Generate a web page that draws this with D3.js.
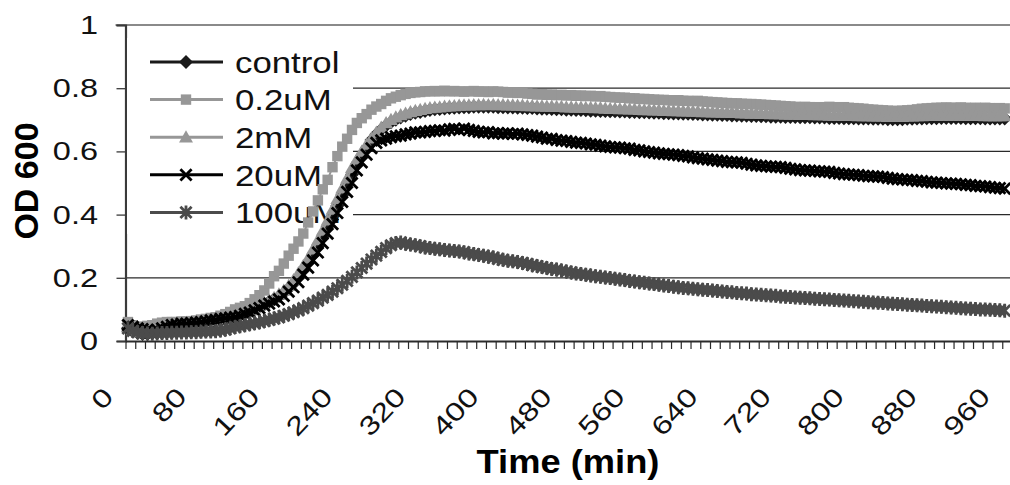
<!DOCTYPE html>
<html><head><meta charset="utf-8">
<script src="https://cdn.jsdelivr.net/npm/d3@7"></script>
<style>html,body{margin:0;padding:0;background:#fff;} svg{display:block;font-family:"Liberation Sans",Arial,sans-serif;}</style>
</head><body>
<svg id="chart" width="1010" height="485"></svg>
<script>
// ---- data (OD 600 readings every 16/3 min) ----
const seriesNames = ["control", "0.2uM", "2mM", "20uM", "100uM"];
const sampleInterval = 16 / 3;
const control = [
0.040,0.030,0.025,0.022,0.022,0.025,0.028,0.030,0.033,0.035,
0.038,0.040,0.043,0.045,0.048,0.050,0.053,0.056,0.060,0.064,
0.068,0.072,0.076,0.081,0.087,0.093,0.100,0.108,0.116,0.124,
0.132,0.141,0.152,0.166,0.182,0.200,0.223,0.247,0.272,0.300,
0.330,0.362,0.394,0.428,0.462,0.495,0.527,0.558,0.585,0.610,
0.636,0.654,0.669,0.682,0.692,0.700,0.707,0.713,0.718,0.722,
0.725,0.728,0.731,0.733,0.734,0.736,0.737,0.738,0.739,0.740,
0.740,0.741,0.741,0.741,0.741,0.741,0.740,0.740,0.739,0.739,
0.738,0.738,0.737,0.737,0.736,0.735,0.735,0.734,0.733,0.733,
0.732,0.732,0.731,0.731,0.730,0.729,0.729,0.728,0.728,0.727,
0.727,0.726,0.726,0.725,0.725,0.724,0.724,0.723,0.722,0.722,
0.721,0.721,0.720,0.720,0.719,0.719,0.718,0.718,0.717,0.717,
0.716,0.716,0.715,0.715,0.714,0.714,0.713,0.713,0.712,0.712,
0.711,0.711,0.710,0.710,0.710,0.709,0.709,0.709,0.708,0.708,
0.708,0.707,0.707,0.707,0.706,0.706,0.706,0.705,0.705,0.705,
0.704,0.704,0.704,0.703,0.703,0.703,0.702,0.702,0.702,0.702,
0.703,0.703,0.704,0.704,0.705,0.705,0.705,0.706,0.706,0.706,
0.706,0.706,0.705,0.705,0.705,0.705,0.704,0.704,0.704,0.704,
0.704];
const uM02 = [
0.060,0.050,0.045,0.045,0.048,0.050,0.055,0.058,0.060,0.060,
0.060,0.062,0.062,0.063,0.065,0.068,0.070,0.073,0.075,0.080,
0.085,0.092,0.100,0.105,0.110,0.120,0.132,0.145,0.160,0.182,
0.205,0.222,0.245,0.270,0.292,0.315,0.340,0.375,0.410,0.445,
0.480,0.510,0.550,0.585,0.615,0.640,0.668,0.690,0.705,0.718,
0.732,0.742,0.750,0.760,0.768,0.773,0.778,0.782,0.785,0.787,
0.788,0.790,0.790,0.791,0.790,0.792,0.790,0.791,0.790,0.789,
0.790,0.791,0.789,0.790,0.788,0.790,0.789,0.788,0.786,0.787,
0.785,0.786,0.783,0.782,0.780,0.781,0.779,0.780,0.778,0.779,
0.777,0.778,0.776,0.777,0.775,0.776,0.774,0.775,0.773,0.772,
0.771,0.770,0.770,0.768,0.768,0.766,0.766,0.765,0.764,0.763,
0.763,0.762,0.761,0.762,0.760,0.760,0.759,0.760,0.758,0.757,
0.756,0.755,0.754,0.753,0.752,0.752,0.751,0.750,0.750,0.749,
0.748,0.747,0.746,0.745,0.744,0.743,0.742,0.741,0.740,0.741,
0.740,0.740,0.739,0.740,0.741,0.740,0.739,0.740,0.738,0.737,
0.736,0.735,0.733,0.732,0.731,0.730,0.729,0.728,0.728,0.729,
0.730,0.731,0.733,0.735,0.736,0.737,0.738,0.738,0.739,0.738,
0.738,0.739,0.738,0.737,0.738,0.737,0.738,0.737,0.736,0.737,
0.736];
const mM2 = [
0.045,0.035,0.030,0.028,0.030,0.032,0.035,0.038,0.040,0.042,
0.045,0.047,0.050,0.052,0.055,0.058,0.060,0.063,0.066,0.070,
0.073,0.076,0.080,0.085,0.090,0.097,0.104,0.112,0.120,0.128,
0.137,0.148,0.160,0.175,0.193,0.215,0.238,0.262,0.290,0.320,
0.350,0.382,0.416,0.450,0.483,0.515,0.548,0.575,0.600,0.622,
0.642,0.660,0.676,0.690,0.700,0.708,0.715,0.720,0.725,0.729,
0.732,0.735,0.737,0.739,0.740,0.742,0.743,0.744,0.745,0.746,
0.746,0.747,0.747,0.748,0.747,0.748,0.747,0.747,0.746,0.746,
0.745,0.745,0.744,0.744,0.743,0.743,0.742,0.742,0.741,0.741,
0.740,0.740,0.739,0.739,0.738,0.738,0.737,0.737,0.736,0.735,
0.735,0.734,0.734,0.733,0.733,0.732,0.731,0.731,0.730,0.730,
0.729,0.729,0.728,0.728,0.727,0.727,0.726,0.726,0.725,0.725,
0.724,0.724,0.723,0.723,0.722,0.722,0.721,0.721,0.720,0.720,
0.719,0.719,0.718,0.718,0.718,0.717,0.717,0.717,0.716,0.716,
0.716,0.715,0.715,0.715,0.714,0.714,0.714,0.713,0.713,0.713,
0.712,0.712,0.712,0.711,0.711,0.711,0.710,0.710,0.710,0.710,
0.711,0.711,0.712,0.712,0.713,0.713,0.713,0.714,0.714,0.714,
0.714,0.714,0.713,0.713,0.713,0.713,0.712,0.712,0.712,0.712,
0.712];
const uM20 = [
0.050,0.045,0.040,0.038,0.035,0.030,0.035,0.040,0.045,0.050,
0.052,0.055,0.055,0.057,0.058,0.060,0.062,0.065,0.067,0.070,
0.072,0.074,0.076,0.080,0.086,0.090,0.097,0.104,0.112,0.118,
0.125,0.132,0.143,0.156,0.170,0.186,0.210,0.232,0.255,0.280,
0.310,0.340,0.370,0.405,0.440,0.472,0.500,0.540,0.565,0.590,
0.610,0.627,0.635,0.640,0.645,0.648,0.650,0.654,0.656,0.660,
0.660,0.662,0.664,0.665,0.667,0.666,0.670,0.671,0.668,0.672,
0.668,0.665,0.662,0.660,0.661,0.657,0.658,0.656,0.657,0.655,
0.656,0.654,0.652,0.650,0.647,0.644,0.640,0.640,0.636,0.634,
0.633,0.630,0.628,0.627,0.625,0.622,0.621,0.618,0.616,0.614,
0.613,0.612,0.610,0.609,0.605,0.603,0.600,0.598,0.596,0.594,
0.592,0.591,0.590,0.588,0.586,0.584,0.581,0.579,0.577,0.575,
0.573,0.571,0.569,0.567,0.566,0.565,0.564,0.561,0.558,0.556,
0.554,0.553,0.552,0.551,0.550,0.548,0.545,0.543,0.541,0.540,
0.539,0.538,0.537,0.536,0.535,0.532,0.530,0.528,0.527,0.526,
0.525,0.523,0.522,0.521,0.520,0.519,0.516,0.514,0.512,0.511,
0.510,0.509,0.507,0.506,0.504,0.502,0.501,0.500,0.499,0.498,
0.497,0.496,0.494,0.493,0.491,0.490,0.489,0.487,0.485,0.484,
0.482];
const uM100 = [
0.040,0.032,0.028,0.025,0.024,0.023,0.024,0.025,0.025,0.026,
0.026,0.027,0.027,0.028,0.028,0.029,0.030,0.030,0.031,0.033,
0.036,0.040,0.044,0.047,0.050,0.053,0.056,0.059,0.063,0.067,
0.071,0.075,0.080,0.085,0.091,0.097,0.104,0.112,0.120,0.128,
0.137,0.146,0.156,0.167,0.178,0.190,0.203,0.217,0.231,0.245,
0.258,0.270,0.282,0.294,0.303,0.310,0.312,0.308,0.305,0.303,
0.300,0.296,0.294,0.292,0.290,0.288,0.286,0.285,0.283,0.281,
0.277,0.275,0.272,0.270,0.267,0.264,0.260,0.257,0.254,0.252,
0.250,0.247,0.244,0.240,0.237,0.234,0.231,0.228,0.226,0.223,
0.220,0.217,0.214,0.212,0.210,0.207,0.205,0.203,0.201,0.199,
0.197,0.195,0.193,0.190,0.188,0.186,0.184,0.182,0.180,0.178,
0.176,0.174,0.172,0.170,0.168,0.167,0.165,0.164,0.162,0.161,
0.160,0.158,0.157,0.155,0.154,0.152,0.151,0.150,0.148,0.147,
0.146,0.145,0.144,0.143,0.141,0.140,0.139,0.138,0.137,0.136,
0.135,0.134,0.133,0.132,0.131,0.130,0.129,0.128,0.127,0.126,
0.125,0.124,0.123,0.122,0.121,0.120,0.119,0.118,0.117,0.116,
0.115,0.114,0.113,0.112,0.111,0.110,0.109,0.108,0.107,0.106,
0.105,0.104,0.103,0.102,0.101,0.100,0.100,0.099,0.098,0.097,
0.096];
const yTickValues = [0, 0.2, 0.4, 0.6, 0.8, 1];
const xTickLabels = [0, 80, 160, 240, 320, 400, 480, 560, 640, 720, 800, 880, 960];

const seriesValues = [control, uM02, mM2, uM20, uM100];
const times = d3.range(control.length).map(i => i * sampleInterval);

// ---- styles ----
const colors = ["#1a1a1a", "#979797", "#979797", "#000000", "#4b4b4b"];
const shapes = ["diamond", "square", "triangle", "x", "asterisk"];

const svg = d3.select("#chart");
const x = d3.scaleLinear()
  .domain([-sampleInterval / 2, (control.length + 0.5) * sampleInterval])
  .range([125.5, 1012]);
const y = d3.scaleLinear().domain([0, 1]).range([341, 25]);
const [L, R] = x.range();

// gridlines
svg.append("g").selectAll("line").data(yTickValues.filter(v => v > 0 && v < 1)).join("line")
  .attr("x1", L).attr("x2", R).attr("y1", d => y(d)).attr("y2", d => y(d))
  .attr("stroke", "#2a2a2a").attr("stroke-width", 1.2);
svg.append("line").attr("x1", L - 10).attr("x2", R).attr("y1", y(1)).attr("y2", y(1))
  .attr("stroke", "#8a8a8a").attr("stroke-width", 2);

// y axis
const yAxis = svg.append("g").attr("transform", `translate(${L},0)`)
  .call(d3.axisLeft(y).tickValues(yTickValues).tickSize(9).tickFormat(""));
yAxis.select(".domain").attr("stroke", "#3a3a3a").attr("stroke-width", 2.2);
yAxis.selectAll(".tick line").attr("stroke", "#3a3a3a").attr("stroke-width", 1.3);
svg.append("g").selectAll("text").data(yTickValues).join("text")
  .attr("transform", d => `translate(98,${y(d)}) scale(1.3,1)`)
  .attr("text-anchor", "end").attr("dy", "0.36em")
  .attr("font-size", 25).attr("fill", "#111")
  .text(d => d3.format("")(d));

// x axis (tick every two readings)
const xTickPos = d3.range(0, Math.floor(control.length / 2) + 1).map(k => -sampleInterval / 2 + k * 2 * sampleInterval);
const xAxis = svg.append("g").attr("transform", `translate(0,${y(0)})`)
  .call(d3.axisBottom(x).tickValues(xTickPos).tickSize(8).tickFormat("").tickSizeOuter(0));
xAxis.select(".domain").attr("stroke", "#2a2a2a").attr("stroke-width", 2.2);
xAxis.selectAll(".tick line").attr("stroke", "#2a2a2a").attr("stroke-width", 1.2);
svg.append("g").selectAll("text").data(xTickLabels).join("text")
  .attr("transform", d => `translate(${x(d) - 13},398) rotate(-47) scale(1.25,1)`)
  .attr("text-anchor", "end")
  .attr("font-size", 26).attr("fill", "#111")
  .text(d => d);

// axis titles
svg.append("text").attr("transform", "translate(38,181) rotate(-90)")
  .attr("text-anchor", "middle").attr("font-weight", "bold").attr("font-size", 34)
  .text("OD 600");
svg.append("text").attr("transform", "translate(568,473) scale(1.1,1)")
  .attr("text-anchor", "middle").attr("font-weight", "bold").attr("font-size", 33)
  .text("Time (min)");

// marker shapes
function markerPath(shape, r) {
  const p = d3.path();
  if (shape === "diamond") { p.moveTo(0, -r); p.lineTo(r, 0); p.lineTo(0, r); p.lineTo(-r, 0); p.closePath(); }
  else if (shape === "square") { p.rect(-r, -r, 2 * r, 2 * r); }
  else if (shape === "triangle") { p.moveTo(0, -r); p.lineTo(r, r * 0.75); p.lineTo(-r, r * 0.75); p.closePath(); }
  else if (shape === "x") { p.moveTo(-r, -r); p.lineTo(r, r); p.moveTo(-r, r); p.lineTo(r, -r); }
  else { p.moveTo(-r, -r); p.lineTo(r, r); p.moveTo(-r, r); p.lineTo(r, -r); p.moveTo(0, -r * 1.25); p.lineTo(0, r * 1.25); }
  return p.toString();
}
const markerR = {diamond: 7, square: 5.2, triangle: 7, x: 5.6, asterisk: 5.6};
function drawMarker(sel, s) {
  const sh = shapes[s];
  const stroked = sh === "x" || sh === "asterisk";
  sel.attr("d", markerPath(sh, markerR[sh]))
    .attr("fill", stroked ? "none" : colors[s])
    .attr("stroke", stroked ? colors[s] : "none")
    .attr("stroke-width", stroked ? 2.8 : 0);
}

// legend (white box covering gridlines)
const legY0 = 62, legStep = 37.6;
svg.append("rect").attr("x", L + 1.5).attr("y", 38).attr("width", 226).attr("height", 196).attr("fill", "#fff");
const leg = svg.append("g");
seriesNames.forEach((name, s) => {
  const g = leg.append("g").attr("transform", `translate(0,${legY0 + s * legStep})`);
  g.append("line").attr("x1", 150).attr("x2", 223).attr("stroke", colors[s]).attr("stroke-width", 3);
  g.append("path").attr("transform", "translate(186,0)").call(drawMarker, s);
  g.append("text").attr("transform", "translate(235,0) scale(1.16,1)").attr("dy", "0.36em")
    .attr("font-size", 30).attr("fill", "#111").text(name);
});

// series
const line = d3.line().x((d, i) => x(times[i])).y(d => y(d));
seriesValues.forEach((vals, s) => {
  const g = svg.append("g");
  g.append("path").datum(vals).attr("d", line).attr("fill", "none")
    .attr("stroke", colors[s]).attr("stroke-width", 2);
  g.selectAll("path.m").data(vals).join("path").attr("class", "m")
    .attr("transform", (d, i) => `translate(${x(times[i])},${y(d)})`)
    .call(drawMarker, s);
});
</script>
</body></html>
